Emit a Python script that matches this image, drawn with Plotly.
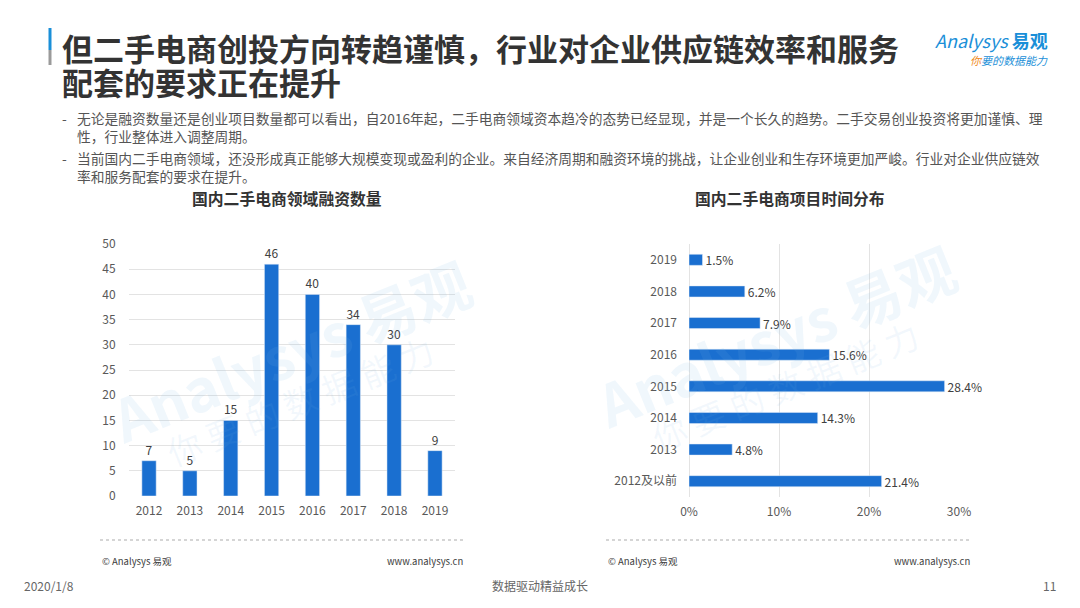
import plotly.graph_objects as go

# 左图：融资数量
years = ['2012', '2013', '2014', '2015', '2016', '2017', '2018', '2019']
funding_count = [7, 5, 15, 46, 40, 34, 30, 9]

# 右图：项目时间分布（自下而上）
periods = ['2012及以前', '2013', '2014', '2015', '2016', '2017', '2018', '2019']
share_pct = [21.4, 4.8, 14.3, 28.4, 15.6, 7.9, 6.2, 1.5]

title_lines = ['但二手电商创投方向转趋谨慎，行业对企业供应链效率和服务', '配套的要求正在提升']
bullet_lines = [
    '无论是融资数量还是创业项目数量都可以看出，自2016年起，二手电商领域资本趋冷的态势已经显现，并是一个长久的趋势。二手交易创业投资将更加谨慎、理',
    '性，行业整体进入调整周期。',
    '当前国内二手电商领域，还没形成真正能够大规模变现或盈利的企业。来自经济周期和融资环境的挑战，让企业创业和生存环境更加严峻。行业对企业供应链效',
    '率和服务配套的要求在提升。',
]

BLUE = '#1a6fd0'
FONT = 'Noto Sans CJK SC'


# 页面像素 -> paper 坐标（页面 body 有 8px 外边距）
def X(px):
    return (px - 8) / 1080


def Y(py):
    return 1 - (py - 8) / 608


fig = go.Figure()
fig.add_trace(go.Bar(x=years, y=funding_count, marker_color=BLUE,
                     text=[str(v) for v in funding_count], textposition='outside',
                     constraintext='none',
                     textfont=dict(size=12, color='#404040'), cliponaxis=False,
                     xaxis='x', yaxis='y', showlegend=False))
fig.add_trace(go.Bar(x=share_pct, y=periods, orientation='h', marker_color=BLUE,
                     text=[f'{v}%' for v in share_pct], textposition='outside',
                     constraintext='none',
                     textfont=dict(size=12, color='#404040'), cliponaxis=False,
                     xaxis='x2', yaxis='y2', showlegend=False))

fig.update_layout(
    width=1080, height=608,
    margin=dict(l=0, r=0, t=0, b=0, autoexpand=False),
    paper_bgcolor='white', plot_bgcolor='white',
    font=dict(family=FONT, color='#595959', size=12),
    bargap=0.65,
    xaxis=dict(domain=[X(128.6), X(455.4)], showgrid=False, showline=False, ticks='',
               tickfont=dict(size=12, color='#595959'), ticklabelstandoff=6,
               anchor='y', automargin=False),
    yaxis=dict(domain=[Y(496), Y(244)], range=[0, 50], dtick=5, gridcolor='#e3e3e3',
               zeroline=False, showline=False, tickfont=dict(size=12, color='#595959'),
               ticklabelstandoff=12, anchor='x', automargin=False),
    xaxis2=dict(domain=[X(689), X(959)], range=[0, 30], dtick=10, ticksuffix='%',
                gridcolor='#e3e3e3', zeroline=True, zerolinecolor='#e3e3e3', zerolinewidth=1,
                showline=False, tickfont=dict(size=12, color='#595959'), ticklabelstandoff=6,
                anchor='y2', automargin=False),
    yaxis2=dict(domain=[Y(497), Y(244)], showgrid=False, showline=False, ticks='',
                tickfont=dict(size=12, color='#595959'), ticklabelstandoff=11, anchor='x2',
                automargin=False),
)

ann = []
# 标题
for i, line in enumerate(title_lines):
    ann.append(dict(text=line, x=X(60), y=Y(47.5 + 34 * i), xref='paper', yref='paper',
                    xanchor='left', yanchor='middle', showarrow=False,
                    font=dict(size=31, color='#333333', family=FONT, weight='bold')))
# 要点
bullet_y = [118, 136, 158, 176]
for i, line in enumerate(bullet_lines):
    ann.append(dict(text=line, x=X(75), y=Y(bullet_y[i]), xref='paper', yref='paper',
                    xanchor='left', yanchor='middle', showarrow=False,
                    font=dict(size=13.75, color='#555555')))
    if i in (0, 2):
        ann.append(dict(text='-', x=X(60), y=Y(bullet_y[i]), xref='paper', yref='paper',
                        xanchor='left', yanchor='middle', showarrow=False,
                        font=dict(size=13.75, color='#555555')))
# 图表标题
for txt, cx in [('国内二手电商领域融资数量', 287), ('国内二手电商项目时间分布', 790)]:
    ann.append(dict(text=txt, x=X(cx), y=Y(198), xref='paper', yref='paper',
                    xanchor='center', yanchor='middle', showarrow=False,
                    font=dict(size=15.8, color='#333333', weight='bold')))
# 来源
for lx, rx in [(100, 465), (606, 972)]:
    ann.append(dict(text='© Analysys 易观', x=X(lx), y=Y(561), xref='paper', yref='paper',
                    xanchor='left', yanchor='middle', showarrow=False,
                    font=dict(size=9.5, color='#404040')))
    ann.append(dict(text='www.analysys.cn', x=X(rx), y=Y(561), xref='paper', yref='paper',
                    xanchor='right', yanchor='middle', showarrow=False,
                    font=dict(size=9.5, color='#404040')))
# 页脚
ann.append(dict(text='2020/1/8', x=X(22), y=Y(585), xref='paper', yref='paper',
                xanchor='left', yanchor='middle', showarrow=False, font=dict(size=12, color='#666666')))
ann.append(dict(text='数据驱动精益成长', x=X(540), y=Y(585), xref='paper', yref='paper',
                xanchor='center', yanchor='middle', showarrow=False, font=dict(size=12, color='#666666')))
ann.append(dict(text='11', x=X(1058), y=Y(585), xref='paper', yref='paper',
                xanchor='right', yanchor='middle', showarrow=False, font=dict(size=12, color='#666666')))
# 标志
ann.append(dict(text='<i>Analysys</i> <b>易观</b>', x=X(1050), y=Y(40), xref='paper', yref='paper',
                xanchor='right', yanchor='middle', showarrow=False, font=dict(size=18, color='#1a8fd8')))
ann.append(dict(text='<i><span style="color:#f08a1c">你</span>要的数据能力</i>', x=X(1050), y=Y(60),
                xref='paper', yref='paper', xanchor='right', yanchor='middle', showarrow=False,
                font=dict(size=11, color='#1a8fd8')))
# 水印
for cx, cy in [(290, 350), (775, 335)]:
    ann.append(dict(text='<b>Analysys 易观</b>', x=X(cx), y=Y(cy), xref='paper', yref='paper',
                    xanchor='center', yanchor='middle', showarrow=False, textangle=-22,
                    font=dict(size=58, color='rgba(120,180,225,0.11)')))
    ann.append(dict(text='你 要 的 数 据 能 力', x=X(cx + 10), y=Y(cy + 50), xref='paper',
                    yref='paper', xanchor='center', yanchor='middle', showarrow=False, textangle=-22,
                    font=dict(size=34, color='rgba(120,180,225,0.09)')))
fig.update_layout(annotations=ann)

# 标题左侧竖条（上蓝下灰）
shapes = [dict(type='line', xref='paper', yref='paper', x0=X(50), x1=X(50),
               y0=Y(28), y1=Y(50), line=dict(color='#1a8fd8', width=3)),
          dict(type='line', xref='paper', yref='paper', x0=X(50), x1=X(50),
               y0=Y(50), y1=Y(65), line=dict(color='#9a9a9a', width=3))]
for x0, x1 in [(100, 465), (606, 972)]:
    shapes.append(dict(type='line', xref='paper', yref='paper', x0=X(x0), x1=X(x1),
                       y0=Y(540), y1=Y(540),
                       line=dict(color='#c8c8c8', width=1.5, dash='dot')))
fig.update_layout(shapes=shapes)

fig.write_html('out.html')
